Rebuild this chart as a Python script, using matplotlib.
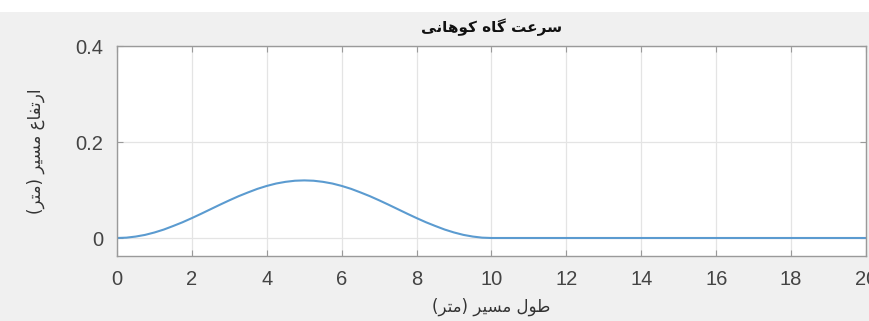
import matplotlib
matplotlib.use('Agg')
import matplotlib.pyplot as plt
from matplotlib.patches import Rectangle

# Road profile of the hump
x_m = [0, 0.25, 0.5, 0.75, 1, 1.25, 1.5, 1.75, 2, 2.25, 2.5, 2.75, 3, 3.25, 3.5, 3.75,
       4, 4.25, 4.5, 4.75, 5, 5.25, 5.5, 5.75, 6, 6.25, 6.5, 6.75, 7, 7.25, 7.5, 7.75,
       8, 8.25, 8.5, 8.75, 9, 9.25, 9.5, 9.75, 10, 20]
height_m = [0, 0.0007, 0.003, 0.0065, 0.0115, 0.0176, 0.025, 0.0328, 0.0415, 0.0506,
            0.06, 0.0694, 0.0785, 0.0872, 0.095, 0.1024, 0.1085, 0.1135, 0.117, 0.1193,
            0.12, 0.1193, 0.117, 0.1135, 0.1085, 0.1024, 0.095, 0.0872, 0.0785, 0.0694,
            0.06, 0.0506, 0.0415, 0.0328, 0.025, 0.0176, 0.0115, 0.0065, 0.003, 0.0007,
            0, 0]

x_ticks = [0, 2, 4, 6, 8, 10, 12, 14, 16, 18, 20]
y_ticks = [0, 0.2, 0.4]
y_tick_labels = ['0', '0.2', '0.4']

title_text = 'سرعت گاه کوهانی'
xlabel_text = 'طول مسیر (متر)'
ylabel_text = 'ارتفاع مسیر (متر)'

# Minimal Arabic/Persian shaping: (isolated, final, initial, medial)
FORMS = {
    'ا': ('\uFE8D', '\uFE8E', None, None),
    'ر': ('\uFEAD', '\uFEAE', None, None),
    'و': ('\uFEED', '\uFEEE', None, None),
    'س': ('\uFEB1', '\uFEB2', '\uFEB3', '\uFEB4'),
    'ع': ('\uFEC9', '\uFECA', '\uFECB', '\uFECC'),
    'ت': ('\uFE95', '\uFE96', '\uFE97', '\uFE98'),
    'ه': ('\uFEE9', '\uFEEA', '\uFEEB', '\uFEEC'),
    'ن': ('\uFEE5', '\uFEE6', '\uFEE7', '\uFEE8'),
    'م': ('\uFEE1', '\uFEE2', '\uFEE3', '\uFEE4'),
    'ط': ('\uFEC1', '\uFEC2', '\uFEC3', '\uFEC4'),
    'ل': ('\uFEDD', '\uFEDE', '\uFEDF', '\uFEE0'),
    'ف': ('\uFED1', '\uFED2', '\uFED3', '\uFED4'),
    'گ': ('\uFB92', '\uFB93', '\uFB94', '\uFB95'),
    'ک': ('\uFB8E', '\uFB8F', '\uFB90', '\uFB91'),
    'ی': ('\uFBFC', '\uFBFD', '\uFBFE', '\uFBFF'),
}
MIRROR = {'(': ')', ')': '('}


def shape_rtl(text):
    out = []
    for i, ch in enumerate(text):
        if ch not in FORMS:
            out.append(ch)
            continue
        prev = text[i - 1] if i > 0 else ''
        nxt = text[i + 1] if i + 1 < len(text) else ''
        joins_prev = prev in FORMS and FORMS[prev][2] is not None
        joins_next = FORMS[ch][2] is not None and nxt in FORMS
        iso, fin, ini, med = FORMS[ch]
        if joins_prev and joins_next:
            out.append(med)
        elif joins_prev:
            out.append(fin)
        elif joins_next:
            out.append(ini)
        else:
            out.append(iso)
    return ''.join(MIRROR.get(c, c) for c in reversed(out))


plt.rcParams['font.family'] = ['DejaVu Sans']

fig = plt.figure(figsize=(8.7, 3.21), dpi=100, facecolor='#f0f0f0')
fig.patches.append(Rectangle((0, 1 - 12 / 321), 1, 12 / 321, transform=fig.transFigure,
                             facecolor='white', edgecolor='none', zorder=-1))
ax = fig.add_axes([117 / 870, 65 / 321, 749 / 870, 210 / 321])
ax.set_facecolor('white')

ax.plot(x_m, height_m, color='#5b9bd0', lw=1.5)

ax.set_xlim(0, 20)
ax.set_ylim(-0.0375, 0.4)
ax.set_xticks(x_ticks)
ax.set_yticks(y_ticks)
ax.set_yticklabels(y_tick_labels)
ax.grid(True, color='#e4e4e4', lw=0.9)
ax.set_axisbelow(True)
ax.tick_params(direction='in', length=4, colors='#9a9a9a', labelcolor='#444444',
               labelsize=14.5, top=True, right=True, pad=10)
for lbl in ax.get_xticklabels() + ax.get_yticklabels():
    lbl.set_family('Liberation Sans')
for s in ax.spines.values():
    s.set_color('#9a9a9a')
    s.set_linewidth(1.0)

ax.set_title(shape_rtl(title_text), fontsize=11, fontweight='bold', color='#111111', pad=10)
ax.set_xlabel(shape_rtl(xlabel_text), fontsize=12, color='#333333', labelpad=6)
ax.set_ylabel(shape_rtl(ylabel_text), fontsize=12, color='#333333', labelpad=22)

fig.savefig('out.png', dpi=100, facecolor=fig.get_facecolor())
